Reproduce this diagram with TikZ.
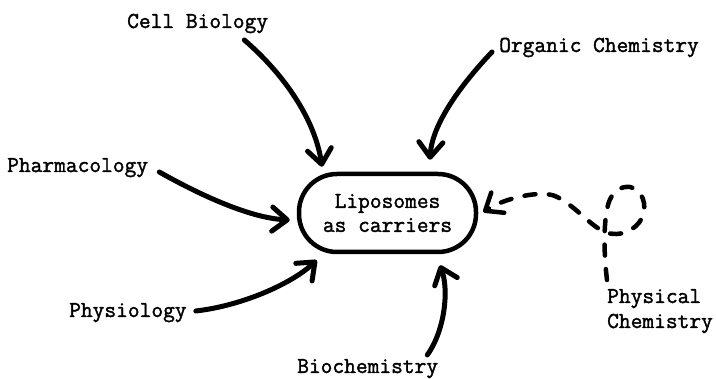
\documentclass[tikz,border=0pt]{standalone}
\usepackage{fontspec}
\newfontfamily\typew{Latin Modern Mono}[FakeBold=1.6]
\usetikzlibrary{arrows.meta,calc}
\begin{document}
\begin{tikzpicture}[x=1pt,y=-1pt,
  lbl/.style={font=\fontsize{22.8}{25}\selectfont\typew, inner sep=0pt, anchor=base west},
  arr/.style={line width=5pt, line cap=round, -{Straight Barb[round,length=15pt,width=24pt]}},
  dasharr/.style={arr, dash pattern=on 11pt off 13.5pt, line width=4.5pt},
  oval/.style={draw, line width=4.5pt, rounded corners=38pt, minimum width=177pt, minimum height=78pt, inner sep=0pt, align=center, font=\fontsize{22.8}{24}\selectfont\typew}
  ]
\useasboundingbox (0,0) rectangle (716,379);
\node[lbl] (cell) at (127,28) {Cell Biology};
\node[lbl] (org) at (499,52) {Organic Chemistry};
\node[lbl] (pharm) at (7,172) {Pharmacology};
\node[lbl] (phys) at (69,317) {Physiology};
\node[lbl] (bio) at (297,373) {Biochemistry};
\node[lbl, text width=110pt, align=left] (pchem) at (607,303) {Physical\\Chemistry};
\node[oval] (lipo) at (387.5,213) {Liposomes\\as carriers};

\draw[arr] ($(cell.base east)+(-24,12)$) .. controls (285,75) and (315,120) .. ($(lipo.north)+(-65.5,-5)$);
\draw[arr] ($(org.base west)+(-7,0)$) .. controls (470,75) and (432,120) .. ($(lipo.north)+(42.5,-12)$);
\draw[arr] ($(pharm.base east)+(11,0)$) .. controls (200,195) and (250,218) .. ($(lipo.west)+(-7,7)$);
\draw[arr] ($(phys.base east)+(9,-6)$) .. controls (240,306) and (290,285) .. ($(lipo.south west)+(20,6)$);
\draw[arr] ($(bio.base east)+(-11,-18)$) .. controls (445,330) and (449,290) .. ($(lipo.south)+(52.5,11)$);
\draw[dasharr] ($(pchem.base west)+(0,-23)$)
  .. controls (604,255) and (603,225) .. (608,205)
  .. controls (612,190) and (622,186) .. (630,187)
  .. controls (642,189) and (648,205) .. (642,218)
  .. controls (636,230) and (620,238) .. (605,232)
  .. controls (590,226) and (575,205) .. (555,196)
  .. controls (540,190) and (505,198) .. ($(lipo.east)+(5,-1)$);
\end{tikzpicture}
\end{document}
